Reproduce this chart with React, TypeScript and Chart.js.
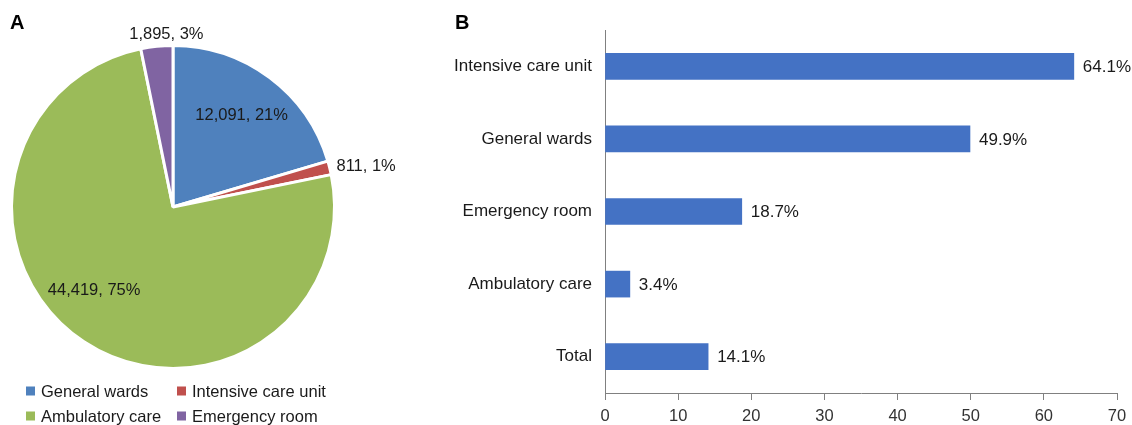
import React, { useEffect, useRef } from "react";
import { Chart, registerables } from "chart.js";

Chart.register(...registerables);

// ---------- Data ----------
const pieLabels = ["General wards", "Intensive care unit", "Ambulatory care", "Emergency room"];
const pieCounts = [12091, 811, 44419, 1895];
const piePercents = [21, 1, 75, 3];

const barCategories = ["Intensive care unit", "General wards", "Emergency room", "Ambulatory care", "Total"];
const barValues = [64.1, 49.9, 18.7, 3.4, 14.1];
const xAxisMin = 0;
const xAxisMax = 70;
const xAxisStep = 10;

// ---------- Styles ----------
const FONT = '"Liberation Sans", Arial, Helvetica, sans-serif';
const TEXT = "#1a1a1a";
const pieColors = ["#4F81BD", "#C0504D", "#9BBB59", "#8064A2"];
const pieLabelAngleNudgeDeg = [0, 0, 10, 3.5];
const barColor = "#4472C4";
const axisColor = "#808080";

Chart.defaults.font.family = FONT;

const pieLabelPlugin = {
  id: "pieLabelPlugin",
  afterDatasetsDraw(chart: any) {
    const ctx = chart.ctx;
    const meta = chart.getDatasetMeta(0);
    ctx.save();
    ctx.font = `16.5px ${FONT}`;
    ctx.fillStyle = TEXT;
    meta.data.forEach((arc: any, i: number) => {
      const p = arc.getProps(["x", "y", "startAngle", "endAngle", "outerRadius"], true);
      const mid = (p.startAngle + p.endAngle) / 2 + (pieLabelAngleNudgeDeg[i] * Math.PI) / 180;
      const frac = (p.endAngle - p.startAngle) / (2 * Math.PI);
      const text = pieCounts[i].toLocaleString("en-US") + ", " + piePercents[i] + "%";
      if (frac > 0.05) {
        const r = p.outerRadius * 0.71;
        ctx.textAlign = "center";
        ctx.textBaseline = "middle";
        ctx.fillText(text, p.x + Math.cos(mid) * r, p.y + Math.sin(mid) * r);
      } else {
        const r = p.outerRadius + 7;
        const px = p.x + Math.cos(mid) * r;
        const py = p.y + Math.sin(mid) * r;
        if (Math.cos(mid) > 0.5) {
          ctx.textAlign = "left";
          ctx.textBaseline = "middle";
          ctx.fillText(text, px, py);
        } else {
          ctx.textAlign = "center";
          ctx.textBaseline = "bottom";
          ctx.fillText(text, px, py + 4);
        }
      }
    });
    ctx.restore();
  },
  afterDraw(chart: any) {
    const ctx = chart.ctx;
    ctx.save();
    // panel letter
    ctx.font = `bold 20px ${FONT}`;
    ctx.fillStyle = "#000";
    ctx.textAlign = "left";
    ctx.textBaseline = "alphabetic";
    ctx.fillText("A", 10, 29);
    // legend (2 columns)
    const colX = [26, 177];
    const rowY = [391, 416];
    ctx.font = `16.5px ${FONT}`;
    ctx.textBaseline = "middle";
    pieLabels.forEach((lab, i) => {
      const cx = colX[i % 2];
      const cy = rowY[Math.floor(i / 2)];
      ctx.fillStyle = pieColors[i];
      ctx.fillRect(cx, cy - 4.5, 9, 9);
      ctx.fillStyle = TEXT;
      ctx.fillText(lab, cx + 15, cy + 1);
    });
    ctx.restore();
  },
};

const barLabelPlugin = {
  id: "barLabelPlugin",
  afterDatasetsDraw(chart: any) {
    const ctx = chart.ctx;
    const meta = chart.getDatasetMeta(0);
    ctx.save();
    ctx.font = `17px ${FONT}`;
    ctx.fillStyle = TEXT;
    ctx.textAlign = "left";
    ctx.textBaseline = "middle";
    meta.data.forEach((bar: any, i: number) => {
      ctx.fillText(barValues[i].toFixed(1) + "%", bar.x + 9, bar.y + 1);
    });
    ctx.restore();
  },
  afterDraw(chart: any) {
    const ctx = chart.ctx;
    ctx.save();
    ctx.font = `bold 20px ${FONT}`;
    ctx.fillStyle = "#000";
    ctx.textAlign = "left";
    ctx.fillText("B", 15, 29);
    ctx.restore();
  },
};

function PieChart() {
  const ref = useRef<HTMLCanvasElement>(null);
  useEffect(() => {
    const chart = new Chart(ref.current as HTMLCanvasElement, {
      type: "pie",
      data: {
        labels: pieLabels,
        datasets: [
          {
            data: pieCounts,
            backgroundColor: pieColors,
            borderColor: "#ffffff",
            borderWidth: 3,
          },
        ],
      },
      options: {
        responsive: false,
        animation: false,
        layout: { padding: { left: 10, top: 44, right: 104, bottom: 55 } },
        plugins: { legend: { display: false }, tooltip: { enabled: false } },
      },
      plugins: [pieLabelPlugin],
    } as any);
    return () => chart.destroy();
  }, []);
  return <canvas ref={ref} width={440} height={425} style={{ display: "block" }} />;
}

function BarChart() {
  const ref = useRef<HTMLCanvasElement>(null);
  useEffect(() => {
    const chart = new Chart(ref.current as HTMLCanvasElement, {
      type: "bar",
      data: {
        labels: barCategories,
        datasets: [
          {
            data: barValues,
            backgroundColor: barColor,
            borderWidth: 0,
            barThickness: 26,
          },
        ],
      },
      options: {
        indexAxis: "y",
        responsive: false,
        animation: false,
        layout: { padding: { left: 0, top: 30, right: 15, bottom: 0 } },
        plugins: { legend: { display: false }, tooltip: { enabled: false } },
        scales: {
          x: {
            min: xAxisMin,
            max: xAxisMax,
            ticks: { stepSize: xAxisStep, color: "#333333", font: { size: 16.5 }, padding: 7 },
            grid: { display: true, drawOnChartArea: false, drawTicks: true, tickLength: 7, color: axisColor },
            border: { display: true, color: axisColor, width: 1 },
            afterFit: (s: any) => {
              s.height = 32;
              s.paddingLeft = 0;
              s.paddingRight = 0;
            },
          },
          y: {
            ticks: { color: TEXT, font: { size: 17 }, padding: 13 },
            grid: { display: false, drawTicks: false },
            border: { display: true, color: axisColor, width: 1 },
            afterFit: (s: any) => {
              s.width = 165;
              s.paddingTop = 0;
              s.paddingBottom = 0;
            },
          },
        },
      },
      plugins: [barLabelPlugin],
    } as any);
    return () => chart.destroy();
  }, []);
  return <canvas ref={ref} width={692} height={425} style={{ display: "block" }} />;
}

export default function App() {
  return (
    <div style={{ position: "absolute", left: 0, top: 0, width: 1132, height: 425, background: "#fff" }}>
      <div style={{ position: "absolute", left: 0, top: 0, width: 440, height: 425 }}>
        <PieChart />
      </div>
      <div style={{ position: "absolute", left: 440, top: 0, width: 692, height: 425 }}>
        <BarChart />
      </div>
    </div>
  );
}
